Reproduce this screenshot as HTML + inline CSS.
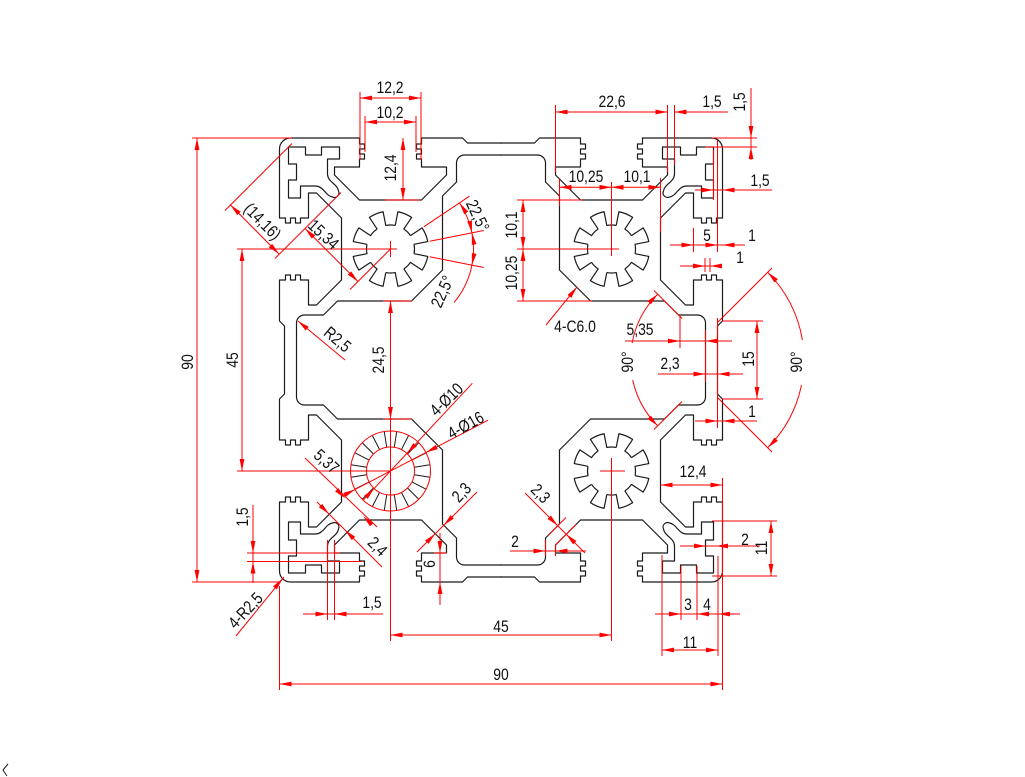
<!DOCTYPE html>
<html><head><meta charset="utf-8">
<style>
html,body{margin:0;padding:0;background:#fff}
svg{display:block}
.t{font-family:"Liberation Sans",Arial,sans-serif;font-size:17px;fill:#111;text-anchor:middle;dominant-baseline:central}
</style></head>
<body>
<svg xmlns="http://www.w3.org/2000/svg" width="1025" height="777" viewBox="0 0 1025 777">
<rect width="1025" height="777" fill="#fff"/>
<defs>
<polygon id="a" points="0,0 -12,-2.4 -12,2.4"/>
<path id="q" d="M5,222 L5,188 L0,183 L0,142 L6,142 L6,137 L11,137 L11,142 L16,142 L16,137 L21,137 L21,142 L29,142 L29,167 L37,167 L62,142 L62,80 L37,55 L29,55 L29,80 L21,80 L21,85 L16,85 L16,80 L11,80 L11,85 L6,85 L6,80 L0,80 L0,11 A11,11 0 0 1 11,0 L80,0 L80,6 L85,6 L85,11 L80,11 L80,16 L85,16 L85,21 L80,21 L80,29 L55,29 L55,37 L80,62 L142,62 L167,37 L167,29 L142,29 L142,21 L137,21 L137,16 L142,16 L142,11 L137,11 L137,6 L142,6 L142,0 L183,0 L188,5 L222,5"/>
<path id="cv" d="M9,9 L26,9 L26,17 L42,17 L42,9 L60,9 L60,21 L48,21 L48,36 C48,44 58,46 59,53 A4.5,4.5 0 0 1 53,59 C46,58 44,48 36,48 L21,48 L21,60 L9,60 L9,42 L17,42 L17,26 L9,26 Z"/>
<path id="cd" d="M222,17 L185,17 A8,8 0 0 0 177,25 L177,44 L163,58 L163,132 L132,163 L58,163 L44,177 L25,177 A8,8 0 0 0 17,185 L17,222"/>
<g id="quad"><use href="#q"/><use href="#cv"/><use href="#cd"/></g>
<path id="tooth" d="M23.54,-4.68 L37.27,-7.41 A38,38 0 0 1 37.27,7.41 L23.54,4.68 A24,24 0 0 1 19.96,13.33"/>
<g id="gear">
<use href="#tooth" transform="rotate(22.5)"/><use href="#tooth" transform="rotate(67.5)"/>
<use href="#tooth" transform="rotate(112.5)"/><use href="#tooth" transform="rotate(157.5)"/>
<use href="#tooth" transform="rotate(202.5)"/><use href="#tooth" transform="rotate(247.5)"/>
<use href="#tooth" transform="rotate(292.5)"/><use href="#tooth" transform="rotate(337.5)"/>
</g>
<line id="rl" x1="24" y1="0" x2="40" y2="0"/>
</defs>

<g fill="none" stroke="#1a1a1a" stroke-width="1.2" stroke-linejoin="round">
<use href="#quad" transform="translate(279.5,138)"/>
<use href="#quad" transform="translate(722.5,138) scale(-1,1)"/>
<use href="#quad" transform="translate(279.5,582) scale(1,-1)"/>
<use href="#quad" transform="translate(722.5,582) scale(-1,-1)"/>
<use href="#gear" transform="translate(390.5,249)"/>
<use href="#gear" transform="translate(611.5,249)"/>
<use href="#gear" transform="translate(611.5,471)"/>
<g transform="translate(390.5,471)" stroke-width="1">
<use href="#rl" transform="rotate(9)"/><use href="#rl" transform="rotate(27)"/>
<use href="#rl" transform="rotate(45)"/><use href="#rl" transform="rotate(63)"/>
<use href="#rl" transform="rotate(81)"/><use href="#rl" transform="rotate(99)"/>
<use href="#rl" transform="rotate(117)"/><use href="#rl" transform="rotate(135)"/>
<use href="#rl" transform="rotate(153)"/><use href="#rl" transform="rotate(171)"/>
<use href="#rl" transform="rotate(189)"/><use href="#rl" transform="rotate(207)"/>
<use href="#rl" transform="rotate(225)"/><use href="#rl" transform="rotate(243)"/>
<use href="#rl" transform="rotate(261)"/><use href="#rl" transform="rotate(279)"/>
<use href="#rl" transform="rotate(297)"/><use href="#rl" transform="rotate(315)"/>
<use href="#rl" transform="rotate(333)"/><use href="#rl" transform="rotate(351)"/>
</g>
<polyline points="8,764 3,770 7,776" stroke-width="1"/>
</g>

<g stroke="#f00" stroke-width="1" fill="none">
<circle cx="390.5" cy="471" r="24"/>
<circle cx="390.5" cy="471" r="40"/>
<path d="M192,138H292 M192,582H281 M197,138V582 M237,249H397 M237,471H390.5 M242,249V471 M390.5,241V257"/>
<path d="M360,92V160 M421,92V160 M365,116V152 M416,116V152 M360,98H421 M365,122H416 M403,138V200 M385,200H420"/>
<path d="M225,210.5L292,143.5 M275,258.5L341,192.5 M230.5,205L279,254 M390.5,249L350,289.5 M305,228.5L358,281.5"/>
<path d="M423.8,226.8L469.5,196.2 M429.7,241.2L483.7,230.5 M429.7,256.8L483.7,267.5"/>
<path d="M459.5,202.9 A83,83 0 0 1 471.9,232.8"/>
<path d="M471.9,232.8 A83,83 0 0 1 454.1,302.4"/>
<path d="M298,321L345,360 M390.5,301V419 M383,301H412 M383,419H412 M390.5,395V641"/>
<path d="M555.5,105V172 M667.5,105V172 M555.5,112H667.5 M674.5,105V165 M674.5,112H728 M751,88V160 M712,138H757 M705,147H757"/>
<path d="M695,190H772 M713.5,150V200 M670,245H745 M693.5,228V252 M717.5,140V252 M680,266H722 M705,258V272 M710,258V272"/>
<path d="M559.5,187.3H660.5 M559.5,178V206 M660.5,178V232 M611.5,182V256 M523,200V301 M517,200H582 M517,249H619 M517,301H592 M546,325L577,287"/>
<path d="M625,341H732 M680,315V348 M658,374H743 M757,321V399 M722,321H763 M722,399H763 M695,421H757 M717.5,318V428 M705.5,330V382"/>
<path d="M654,290.5L682,318.5 M654,429.5L682,401.5"/>
<path d="M657.7,294.2 A93,93 0 0 0 632.1,343"/>
<path d="M632.7,380 A93,93 0 0 0 657.7,425.8"/>
<path d="M717.5,322.5L772,268 M717.5,397.5L772,452"/>
<path d="M767.7,272.3 A124,124 0 0 1 802.4,340"/>
<path d="M801.5,385 A124,124 0 0 1 767.7,447.7"/>
<path d="M660.5,485H722.5 M722.5,478V690 M680,546H760 M771,521V576 M712,521H777 M712,576H777"/>
<path d="M662,555V656 M681,566V620 M697,566V620 M718,556V656 M655,614H740 M662,650H718 M600,471H625 M611.5,458V641"/>
<path d="M390.5,635H611.5 M279.5,684H722.5 M279.5,586V690"/>
<path d="M510,551H586 M545.5,540V556 M555.5,545V556 M525,493L585,553 M548,535.5L566,517.5 M556,544.5L576,524.5"/>
<path d="M417,552L477,492 M440,533V605 M434,553H447"/>
<path d="M253,505V583 M247,553H340 M247,561.5H362 M236,636L284,577 M303,614H383 M327.5,540V620 M334.5,540V620"/>
<path d="M305,458L377,527 M317,502L382,567 M363.2,500.2L472.3,383.3 M347.9,493.2L488.1,420.2"/>
</g>

<g fill="#f00">
<use href="#a" transform="translate(197,138) rotate(-90)"/><use href="#a" transform="translate(197,582) rotate(90)"/>
<use href="#a" transform="translate(242,249) rotate(-90)"/><use href="#a" transform="translate(242,471) rotate(90)"/>
<use href="#a" transform="translate(360,98) rotate(180)"/><use href="#a" transform="translate(421,98)"/>
<use href="#a" transform="translate(365,122) rotate(180)"/><use href="#a" transform="translate(416,122)"/>
<use href="#a" transform="translate(403,138) rotate(-90)"/><use href="#a" transform="translate(403,200) rotate(90)"/>
<use href="#a" transform="translate(230.5,205) rotate(-135)"/><use href="#a" transform="translate(279,254) rotate(45)"/>
<use href="#a" transform="translate(305,228.5) rotate(-135)"/><use href="#a" transform="translate(358,281.5) rotate(45)"/>
<use href="#a" transform="translate(459.5,202.9) rotate(-124)"/><use href="#a" transform="translate(471.9,232.8) rotate(79)"/>
<use href="#a" transform="translate(471.9,232.8) rotate(-101)"/><use href="#a" transform="translate(471.9,265.2) rotate(101)"/>
<use href="#a" transform="translate(298,321) rotate(-140)"/>
<use href="#a" transform="translate(390.5,301) rotate(-90)"/><use href="#a" transform="translate(390.5,419) rotate(90)"/>
<use href="#a" transform="translate(555.5,112) rotate(180)"/><use href="#a" transform="translate(667.5,112)"/><use href="#a" transform="translate(674.5,112) rotate(180)"/>
<use href="#a" transform="translate(751,138) rotate(90)"/><use href="#a" transform="translate(751,147) rotate(-90)"/>
<use href="#a" transform="translate(713.5,190)"/><use href="#a" transform="translate(722.5,190) rotate(180)"/>
<use href="#a" transform="translate(693.5,245)"/><use href="#a" transform="translate(717.5,245)"/><use href="#a" transform="translate(722.5,245) rotate(180)"/>
<use href="#a" transform="translate(705,266)"/><use href="#a" transform="translate(710,266) rotate(180)"/>
<use href="#a" transform="translate(559.5,187.3) rotate(180)"/><use href="#a" transform="translate(611.5,187.3)"/>
<use href="#a" transform="translate(611.5,187.3) rotate(180)"/><use href="#a" transform="translate(660.5,187.3)"/>
<use href="#a" transform="translate(523,200) rotate(-90)"/><use href="#a" transform="translate(523,249) rotate(90)"/>
<use href="#a" transform="translate(523,249) rotate(-90)"/><use href="#a" transform="translate(523,301) rotate(90)"/>
<use href="#a" transform="translate(577,287) rotate(-51)"/>
<use href="#a" transform="translate(680,341)"/><use href="#a" transform="translate(705.5,341) rotate(180)"/>
<use href="#a" transform="translate(705.5,374)"/><use href="#a" transform="translate(717.5,374) rotate(180)"/>
<use href="#a" transform="translate(757,321) rotate(-90)"/><use href="#a" transform="translate(757,399) rotate(90)"/>
<use href="#a" transform="translate(717.5,421)"/><use href="#a" transform="translate(722.5,421) rotate(180)"/>
<use href="#a" transform="translate(657.7,294.2) rotate(-45)"/><use href="#a" transform="translate(657.7,425.8) rotate(45)"/>
<use href="#a" transform="translate(767.7,272.3) rotate(-135)"/><use href="#a" transform="translate(767.7,447.7) rotate(135)"/>
<use href="#a" transform="translate(660.5,485) rotate(180)"/><use href="#a" transform="translate(722.5,485)"/>
<use href="#a" transform="translate(706,546)"/><use href="#a" transform="translate(716,546) rotate(180)"/>
<use href="#a" transform="translate(771,521) rotate(-90)"/><use href="#a" transform="translate(771,576) rotate(90)"/>
<use href="#a" transform="translate(681,614)"/><use href="#a" transform="translate(697,614) rotate(180)"/><use href="#a" transform="translate(718,614) rotate(180)"/>
<use href="#a" transform="translate(662,650) rotate(180)"/><use href="#a" transform="translate(718,650)"/>
<use href="#a" transform="translate(390.5,635) rotate(180)"/><use href="#a" transform="translate(611.5,635)"/>
<use href="#a" transform="translate(279.5,684) rotate(180)"/><use href="#a" transform="translate(722.5,684)"/>
<use href="#a" transform="translate(545.5,551)"/><use href="#a" transform="translate(555.5,551) rotate(180)"/>
<use href="#a" transform="translate(557.75,525.75) rotate(45)"/><use href="#a" transform="translate(566.25,534.25) rotate(-135)"/>
<use href="#a" transform="translate(443.75,525.25) rotate(135)"/><use href="#a" transform="translate(435.25,533.75) rotate(-45)"/>
<use href="#a" transform="translate(440,553) rotate(90)"/><use href="#a" transform="translate(440,582) rotate(-90)"/>
<use href="#a" transform="translate(253,553) rotate(90)"/><use href="#a" transform="translate(253,561.5) rotate(-90)"/>
<use href="#a" transform="translate(282.5,578.5) rotate(-51)"/>
<use href="#a" transform="translate(327.5,614)"/><use href="#a" transform="translate(334.5,614) rotate(180)"/>
<use href="#a" transform="translate(345.25,498.25) rotate(45)"/><use href="#a" transform="translate(363.25,516.25) rotate(-135)"/>
<use href="#a" transform="translate(329,514) rotate(45)"/><use href="#a" transform="translate(345,530) rotate(-135)"/>
<use href="#a" transform="translate(406.9,453.5) rotate(133)"/><use href="#a" transform="translate(374.1,488.5) rotate(-47)"/>
<use href="#a" transform="translate(426,452.5) rotate(152.5)"/><use href="#a" transform="translate(355,489.5) rotate(-27.5)"/>
</g>

<g>
<text class="t" transform="translate(390,88) scale(0.82,1)">12,2</text>
<text class="t" transform="translate(390,113) scale(0.82,1)">10,2</text>
<text class="t" transform="translate(391,168) rotate(-90) scale(0.82,1)">12,4</text>
<text class="t" transform="translate(262,222) rotate(45) scale(0.82,1)">(14,16)</text>
<text class="t" transform="translate(323,235) rotate(43) scale(0.82,1)">15,34</text>
<text class="t" transform="translate(477,216) rotate(65) scale(0.82,1)">22,5°</text>
<text class="t" transform="translate(443,292) rotate(-66) scale(0.82,1)">22,5°</text>
<text class="t" transform="translate(337,340) rotate(40) scale(0.82,1)">R2,5</text>
<text class="t" transform="translate(379,360) rotate(-90) scale(0.82,1)">24,5</text>
<text class="t" transform="translate(233,360) rotate(-90) scale(0.82,1)">45</text>
<text class="t" transform="translate(188,362) rotate(-90) scale(0.82,1)">90</text>
<text class="t" transform="translate(447,400) rotate(-44) scale(0.82,1)">4-Ø10</text>
<text class="t" transform="translate(466,426) rotate(-29) scale(0.82,1)">4-Ø16</text>
<text class="t" transform="translate(326,462) rotate(42) scale(0.82,1)">5,37</text>
<text class="t" transform="translate(462,493) rotate(-46) scale(0.82,1)">2,3</text>
<text class="t" transform="translate(540,494) rotate(46) scale(0.82,1)">2,3</text>
<text class="t" transform="translate(377,547) rotate(45) scale(0.82,1)">2,4</text>
<text class="t" transform="translate(243,517) rotate(-90) scale(0.82,1)">1,5</text>
<text class="t" transform="translate(246,611) rotate(-47) scale(0.82,1)">4-R2,5</text>
<text class="t" transform="translate(372,603) scale(0.82,1)">1,5</text>
<text class="t" transform="translate(430,564) rotate(-90) scale(0.82,1)">6</text>
<text class="t" transform="translate(515,542) scale(0.82,1)">2</text>
<text class="t" transform="translate(501,627) scale(0.82,1)">45</text>
<text class="t" transform="translate(501,675) scale(0.82,1)">90</text>
<text class="t" transform="translate(688,605) scale(0.82,1)">3</text>
<text class="t" transform="translate(707,605) scale(0.82,1)">4</text>
<text class="t" transform="translate(690,643) scale(0.82,1)">11</text>
<text class="t" transform="translate(693,472) scale(0.82,1)">12,4</text>
<text class="t" transform="translate(745,540) scale(0.82,1)">2</text>
<text class="t" transform="translate(762,548) rotate(-90) scale(0.82,1)">11</text>
<text class="t" transform="translate(752,412) scale(0.82,1)">1</text>
<text class="t" transform="translate(749,359) rotate(-90) scale(0.82,1)">15</text>
<text class="t" transform="translate(670,364) scale(0.82,1)">2,3</text>
<text class="t" transform="translate(640,330) scale(0.82,1)">5,35</text>
<text class="t" transform="translate(628,362) rotate(-90) scale(0.82,1)">90°</text>
<text class="t" transform="translate(797,362) rotate(-90) scale(0.82,1)">90°</text>
<text class="t" transform="translate(575,327) scale(0.82,1)">4-C6.0</text>
<text class="t" transform="translate(512,225) rotate(-90) scale(0.82,1)">10,1</text>
<text class="t" transform="translate(512,273) rotate(-90) scale(0.82,1)">10,25</text>
<text class="t" transform="translate(586,177) scale(0.82,1)">10,25</text>
<text class="t" transform="translate(637,177) scale(0.82,1)">10,1</text>
<text class="t" transform="translate(612,102) scale(0.82,1)">22,6</text>
<text class="t" transform="translate(712,102) scale(0.82,1)">1,5</text>
<text class="t" transform="translate(740,102) rotate(-90) scale(0.82,1)">1,5</text>
<text class="t" transform="translate(760,181) scale(0.82,1)">1,5</text>
<text class="t" transform="translate(707,236) scale(0.82,1)">5</text>
<text class="t" transform="translate(752,236) scale(0.82,1)">1</text>
<text class="t" transform="translate(740,258) scale(0.82,1)">1</text>
</g>
</svg>
</body></html>
